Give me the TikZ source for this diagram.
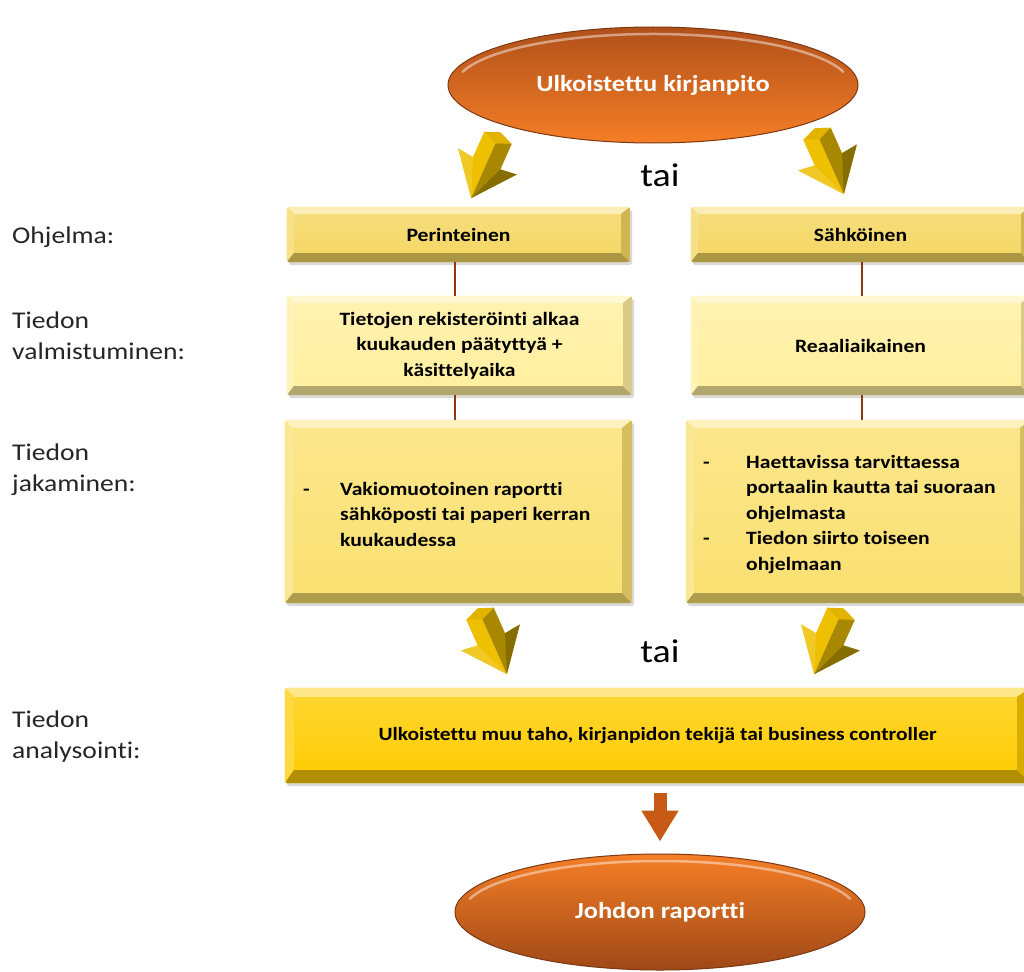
\documentclass[tikz,border=0pt]{standalone}
\usepackage{fontspec}
\setmainfont{Carlito}[FakeStretch=1.15,Ligatures={NoCommon}]
\usetikzlibrary{shapes.geometric,arrows.meta}
\pgfdeclarelayer{bg}
\pgfdeclarelayer{paper}
\pgfsetlayers{paper,bg,main}
\definecolor{orD}{HTML}{B0501A}
\definecolor{orL}{HTML}{F57E26}
\definecolor{yelA}{HTML}{F4D660}
\definecolor{yelB}{HTML}{FFEF9E}
\definecolor{yelC}{HTML}{FAE070}
\definecolor{yelD}{HTML}{FFCC00}
\definecolor{brn}{HTML}{8B3A10}
\definecolor{goldL}{HTML}{EFC000}
\definecolor{goldD}{HTML}{A88800}
\definecolor{goldT}{HTML}{E2B400}
\definecolor{arr}{HTML}{C65A14}
\newcommand\bevelit[4]{% name, depth top/left, depth bottom/right, base colour
 \begin{pgfonlayer}{bg}
 \fill[black,opacity=0.15,rounded corners=3pt] ([shift={(2pt,-3pt)}]#1.south west) rectangle ([shift={(2pt,-3pt)}]#1.north east);
 \begin{scope}
 \clip[rounded corners=3pt] (#1.south west) rectangle (#1.north east);
 \shade[top color=#4!80!white,bottom color=#4] (#1.south west) rectangle (#1.north east);
 \fill[#4!45!white] (#1.north west) -- (#1.north east) -- ([shift={(-#3pt,-#2pt)}]#1.north east) -- ([shift={(#2pt,-#2pt)}]#1.north west) -- cycle;
 \fill[#4!75!white] (#1.north west) -- ([shift={(#2pt,-#2pt)}]#1.north west) -- ([shift={(#2pt,#3pt)}]#1.south west) -- (#1.south west) -- cycle;
 \fill[#4!70!black] (#1.south west) -- ([shift={(#2pt,#3pt)}]#1.south west) -- ([shift={(-#3pt,#3pt)}]#1.south east) -- (#1.south east) -- cycle;
 \fill[#4!85!black] (#1.south east) -- ([shift={(-#3pt,#3pt)}]#1.south east) -- ([shift={(-#3pt,-#2pt)}]#1.north east) -- (#1.north east) -- cycle;
 \end{scope}
 \end{pgfonlayer}
}
\tikzset{
 box/.style={rectangle,inner sep=0pt,align=center,font=\bfseries\fontsize{18.8}{25.5}\selectfont},
 oval/.style={ellipse,inner sep=0pt,minimum width=410pt,minimum height=116pt,draw=orD!70!black,line width=1pt,
   font=\bfseries\fontsize{23}{28}\selectfont,text=white},
 lab/.style={anchor=west,align=left,inner sep=0pt,font=\fontsize{24}{31}\selectfont,text=black!85},
 orword/.style={inner sep=0pt,font=\fontsize{33}{38}\selectfont},
 conn/.style={draw=brn,line width=2pt},
 blockarrow/.style={draw=arr,line width=13pt,-{Triangle[width=35pt,length=31pt]}},
 shine/.style={white,opacity=0.45,line width=2.5pt,line cap=round},
 chev/.pic={
  \fill[goldL] (-15,32) -- (0,32) -- (0,-34) -- (-32,6) -- (-15,4) -- cycle;
  \fill[goldD] (0,32) -- (15,32) -- (15,4) -- (32,6) -- (0,-34) -- cycle;
  \fill[goldT] (-15,32) -- (0,38) -- (15,32) -- (0,26) -- cycle;
  \fill[goldD!80!black] (0,-34) -- (15,4) -- (32,6) -- cycle;
  \fill[goldL!85!white] (0,-34) -- (-15,4) -- (-32,6) -- cycle;
 }
}
\begin{document}
\begin{tikzpicture}[x=1pt,y=1pt]
\useasboundingbox (0,0) rectangle (1024,-971);
\begin{pgfonlayer}{paper}
\fill[white] (0,0) rectangle (1024,-971);
\end{pgfonlayer}

% ovals
\node[oval,top color=orD,bottom color=orL] (top) at (653,-85) {Ulkoistettu kirjanpito};
\draw[shine] (top.center) ++(165:197 and 51) arc [start angle=165,end angle=15,x radius=197,y radius=51];
\node[oval,top color=orL,bottom color=orD!90!black] (end) at (660,-912) {Johdon raportti};
\draw[shine] (end.center) ++(165:197 and 51) arc [start angle=165,end angle=15,x radius=197,y radius=51];

% row 1
\node[box,minimum width=343pt,minimum height=55pt] (r1l) at (458.5,-234.5) {Perinteinen};
\node[box,minimum width=339pt,minimum height=55pt] (r1r) at (860.5,-234.5) {Sähköinen};
% row 2
\node[box,minimum width=345pt,minimum height=99pt] (r2l) at (459.5,-345.5) {Tietojen rekisteröinti alkaa\\kuukauden päätyttyä +\\käsittelyaika};
\node[box,minimum width=339pt,minimum height=99pt] (r2r) at (860.5,-345.5) {Reaaliaikainen};
% row 3
\node[box,minimum width=347pt,minimum height=183pt] (r3l) at (458.5,-511.5) {};
\node[box,minimum width=344pt,minimum height=183pt] (r3r) at (858,-511.5) {};
\node[box,anchor=west,align=left] (t3l) at (303,-514) {\makebox[37pt][l]{-}Vakiomuotoinen raportti\\\hspace*{37pt}sähköposti tai paperi kerran\\\hspace*{37pt}kuukaudessa};
\node[box,anchor=west,align=left] (t3r) at (703,-514) {\makebox[43pt][l]{-}Haettavissa tarvittaessa\\\hspace*{43pt}portaalin kautta tai suoraan\\\hspace*{43pt}ohjelmasta\\\makebox[43pt][l]{-}Tiedon siirto toiseen\\\hspace*{43pt}ohjelmaan};
% bottom box
\node[box,minimum width=745pt,minimum height=95pt,font=\bfseries\fontsize{18.7}{22}\selectfont] (r4) at (657.5,-735.5) {Ulkoistettu muu taho, kirjanpidon tekijä tai business controller};

\bevelit{r1l}{7}{9}{yelA}
\bevelit{r1r}{7}{9}{yelA}
\bevelit{r2l}{7}{9}{yelB}
\bevelit{r2r}{7}{9}{yelB}
\bevelit{r3l}{8}{10}{yelC}
\bevelit{r3r}{8}{10}{yelC}
\bevelit{r4}{9}{13}{yelD}

% connectors
\coordinate (cl1) at ([xshift=-4pt]r1l.south);
\coordinate (cr1) at ([xshift=1.5pt]r1r.south);
\draw[conn] (cl1) -- (cl1 |- r2l.north);
\draw[conn] (cr1) -- (cr1 |- r2r.north);
\coordinate (cl2) at ([xshift=-4.5pt]r2l.south);
\coordinate (cr2) at ([xshift=1.5pt]r2r.south);
\draw[conn] (cl2) -- (cl2 |- r3l.north);
\draw[conn] (cr2) -- (cr2 |- r3r.north);
\coordinate (ea) at ([yshift=-10pt]r4.south -| end.north);
\draw[blockarrow] (ea) -- ([yshift=12pt]end.north);

% 3D arrows
\pic[rotate=-24] at (485,-167) {chev};
\pic[rotate=24] at (830,-163) {chev};
\pic[rotate=24] at (493,-643) {chev};
\pic[rotate=-24] at (828,-643) {chev};

\node[orword] (or1) at (660,-175) {tai};
\node[orword] (or2) at (660,-651) {tai};

% labels
\node[lab] (l1) at (12,-237) {Ohjelma:};
\node[lab] (l2) at (12,-336) {Tiedon\\valmistuminen:};
\node[lab] (l3) at (12,-470) {Tiedon\\jakaminen:};
\node[lab] (l4) at (12,-737) {Tiedon\\analysointi:};
\end{tikzpicture}
\end{document}
